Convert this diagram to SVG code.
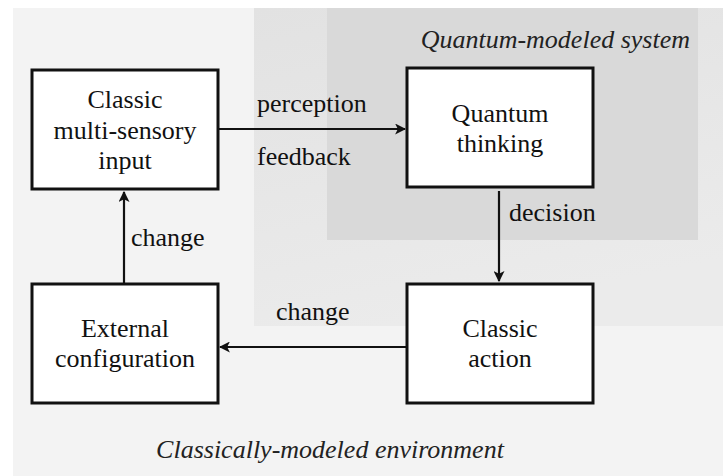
<svg xmlns="http://www.w3.org/2000/svg" width="723" height="476" viewBox="0 0 723 476">
  <style>
    .box { fill: #ffffff; stroke: #111111; stroke-width: 3; }
    .lbl { font-family: 'Liberation Serif', 'Times New Roman', serif; font-size: 26px; fill: #111111; }
    .ttl { font-family: 'Liberation Serif', 'Times New Roman', serif; font-size: 26px; font-style: italic; fill: #222222; }
    .mid { text-anchor: middle; }
    .edge { stroke: #111111; stroke-width: 2.2; fill: none; marker-end: url(#arr); }
  </style>
  <defs>
    <marker id="arr" viewBox="0 0 10 10" refX="9" refY="5" markerWidth="5" markerHeight="5" orient="auto" markerUnits="strokeWidth">
      <path d="M0,0 L10,5 L0,10 L2.5,5 Z" fill="#111111"/>
    </marker>
    <linearGradient id="gmid" x1="0" y1="0" x2="0.3" y2="1">
      <stop offset="0" stop-color="#e2e2e2"/>
      <stop offset="1" stop-color="#ebebeb"/>
    </linearGradient>
  </defs>
  <rect x="0" y="0" width="723" height="476" fill="#ffffff"/>
  <g id="env">
    <rect x="13" y="8" width="710" height="468" fill="#f3f3f3"/>
    <rect x="254" y="8" width="469" height="318" fill="url(#gmid)"/>
    <rect x="327" y="8" width="371" height="232" fill="#d9d9d9"/>
    <text class="ttl" x="690" y="48" text-anchor="end">Quantum-modeled system</text>
    <text class="ttl" x="330" y="458" text-anchor="middle">Classically-modeled environment</text>
  </g>
  <g id="connectors">
    <line class="edge" x1="219" y1="129" x2="405" y2="129"/>
    <line class="edge" x1="499" y1="191" x2="499" y2="281"/>
    <line class="edge" x1="406" y1="347" x2="220" y2="347"/>
    <line class="edge" x1="124" y1="284" x2="124" y2="192"/>
    <text class="lbl" x="257" y="112">perception</text>
    <text class="lbl" x="257" y="165">feedback</text>
    <text class="lbl" x="509" y="221">decision</text>
    <text class="lbl" x="131" y="246">change</text>
    <text class="lbl" x="276" y="320">change</text>
  </g>
  <g id="input">
    <rect class="box" x="32" y="70" width="186" height="119"/>
    <text class="lbl mid" x="125" y="108">Classic</text>
    <text class="lbl mid" x="125" y="139">multi-sensory</text>
    <text class="lbl mid" x="125" y="169">input</text>
  </g>
  <g id="quantum">
    <rect class="box" x="407" y="68" width="186" height="119"/>
    <text class="lbl mid" x="500" y="122">Quantum</text>
    <text class="lbl mid" x="500" y="152">thinking</text>
  </g>
  <g id="external">
    <rect class="box" x="32" y="284" width="186" height="119"/>
    <text class="lbl mid" x="125" y="337">External</text>
    <text class="lbl mid" x="125" y="367">configuration</text>
  </g>
  <g id="action">
    <rect class="box" x="407" y="284" width="186" height="119"/>
    <text class="lbl mid" x="500" y="337">Classic</text>
    <text class="lbl mid" x="500" y="367">action</text>
  </g>
</svg>
